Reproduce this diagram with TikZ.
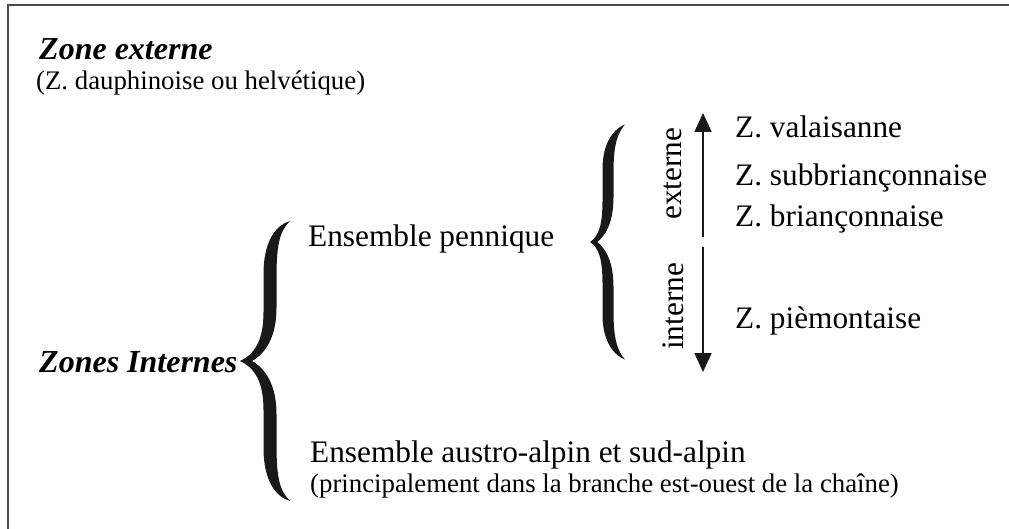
\documentclass[tikz,border=0pt]{standalone}
\usepackage{fontspec}
\setmainfont{Liberation Serif}
\usetikzlibrary{arrows.meta}
\tikzset{
  lab/.style={inner sep=0pt, anchor=base west, font=\fontsize{31.3}{36}\selectfont},
  paren/.style={inner sep=0pt, anchor=base west, font=\fontsize{26.8}{32}\selectfont},
  titl/.style={inner sep=0pt, anchor=base west, font=\fontsize{32}{38}\selectfont\bfseries\itshape},
  vlab/.style={inner sep=0pt, anchor=base west, rotate=90, font=\fontsize{31.3}{36}\selectfont},
  frame/.style={draw=black!70, line width=2pt},
  axis/.style={draw=black!90, line width=1.8pt},
  axarrow/.style={axis, -{Triangle[length=19pt, width=17pt]}},
  bracefill/.style={fill=black!90},
}
% #1 tip x, #2 tip y, #3 half height, #4 width, #5 stroke offset, #6 stroke thickness
\newcommand{\mybrace}[6]{%
\fill[bracefill] (#1,#2)
 .. controls (#1+0.5*#5,#2-0.05*#3) and (#1+#5-0.5*#6,#2-0.15*#3) .. (#1+#5-0.5*#6,#2-0.35*#3)
 -- (#1+#5-0.5*#6,#2-0.62*#3)
 .. controls (#1+#5-0.5*#6,#2-0.86*#3) and (#1+0.72*#4,#2-0.97*#3) .. (#1+#4,#2-#3)
 .. controls (#1+0.8*#4,#2-0.93*#3) and (#1+#5+0.5*#6,#2-0.84*#3) .. (#1+#5+0.5*#6,#2-0.6*#3)
 -- (#1+#5+0.5*#6,#2-0.38*#3)
 .. controls (#1+#5+0.5*#6,#2-0.12*#3) and (#1+0.65*#5,#2-0.03*#3) .. (#1+0.4*#5,#2)
 .. controls (#1+0.65*#5,#2+0.03*#3) and (#1+#5+0.5*#6,#2+0.12*#3) .. (#1+#5+0.5*#6,#2+0.38*#3)
 -- (#1+#5+0.5*#6,#2+0.6*#3)
 .. controls (#1+#5+0.5*#6,#2+0.84*#3) and (#1+0.8*#4,#2+0.93*#3) .. (#1+#4,#2+#3)
 .. controls (#1+0.72*#4,#2+0.97*#3) and (#1+#5-0.5*#6,#2+0.86*#3) .. (#1+#5-0.5*#6,#2+0.62*#3)
 -- (#1+#5-0.5*#6,#2+0.35*#3)
 .. controls (#1+#5-0.5*#6,#2+0.15*#3) and (#1+0.5*#5,#2+0.05*#3) .. (#1,#2)
 -- cycle;}
\begin{document}
\begin{tikzpicture}[x=1pt, y=-1pt]
\useasboundingbox (0,0) rectangle (1009,529);
% frame (top and left edges)
\coordinate (fbl) at (8,529);
\coordinate (ftl) at (8,5);
\coordinate (ftr) at (1009,5);
\draw[frame] (fbl) -- (ftl) -- (ftr);
% titles
\node[titl] (zext) at (39,60) {Zone externe};
\node[paren] (zextp) at (36,90) {(Z. dauphinoise ou helvétique)};
\node[titl] (zint) at (39,372) {Zones Internes};
% big brace
\mybrace{240}{361}{140}{50}{30}{13}
% ensembles
\node[lab] (pen) at (308,247) {Ensemble pennique};
\node[lab] (aus) at (310,462) {Ensemble austro-alpin et sud-alpin};
\node[paren] (ausp) at (310,492) {(principalement dans la branche est-ouest de la chaîne)};
% small brace
\mybrace{590}{242}{117.5}{35}{18}{11}
% vertical labels
\node[vlab] (ext) at (681,220) {externe};
\node[vlab] (int) at (683,350) {interne};
% arrows
\coordinate (upS) at (703,237);
\coordinate (upE) at (703,113);
\coordinate (dnS) at (703,247);
\coordinate (dnE) at (703,372);
\draw[axarrow] (upS) -- (upE);
\draw[axarrow] (dnS) -- (dnE);
% zones
\node[lab] (val) at (735,138) {Z. valaisanne};
\node[lab] (sub) at (735,186) {Z. subbriançonnaise};
\node[lab] (bri) at (735,227) {Z. briançonnaise};
\node[lab] (pie) at (735,328) {Z. pièmontaise};
\end{tikzpicture}
\end{document}
